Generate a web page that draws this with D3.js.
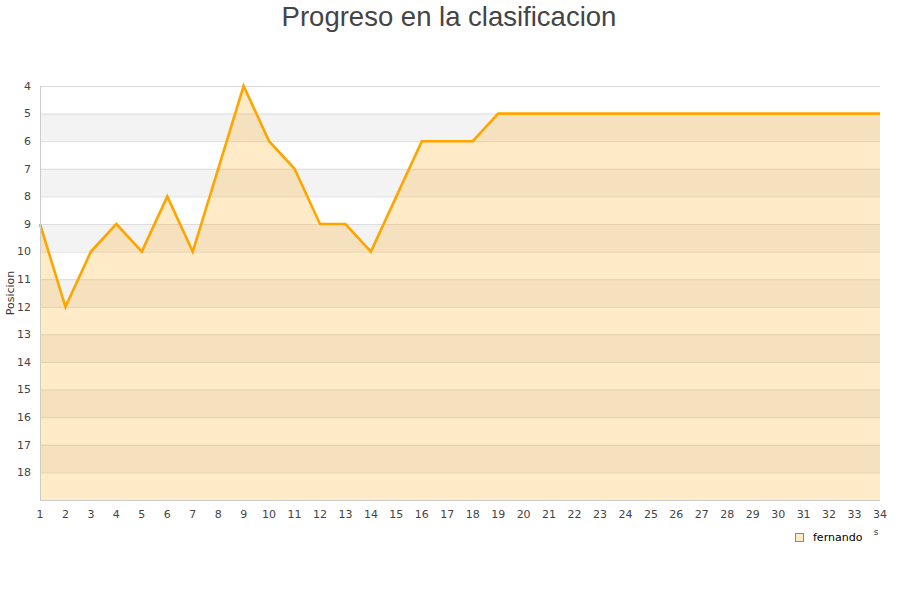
<!DOCTYPE html>
<html><head><meta charset="utf-8">
<script src="https://cdn.jsdelivr.net/npm/d3@7"></script>
<style>body{margin:0;background:#fff}svg{display:block}</style>
</head><body>
<svg id="c" width="900" height="600"></svg>
<script>
const jornadas = d3.range(1, 35);
const posiciones = [9,12,10,9,10,8,10,7,4,6,7,9,9,10,8,6,6,6,5,5,5,5,5,5,5,5,5,5,5,5,5,5,5,5];
const yTicks = [4,5,6,7,8,9,10,11,12,13,14,15,16,17,18];
const title = "Progreso en la clasificacion";
const yLabel = "Posicion";
const seriesName = "fernando";

const svg = d3.select("#c");
const x = d3.scaleLinear().domain([1, 34]).range([40, 880]);
const y = d3.scaleLinear().domain([4, 19]).range([86, 500]);

// bands
const bands = d3.range(4, 19);
svg.append("g").selectAll("rect").data(bands).join("rect")
  .attr("x", 40).attr("width", 840)
  .attr("y", d => y(d)).attr("height", d => y(d + 1) - y(d))
  .attr("fill", d => d % 2 === 1 ? "#f3f3f3" : "#ffffff");

// grid
svg.append("g").selectAll("line").data(yTicks).join("line")
  .attr("x1", 40).attr("x2", 880)
  .attr("y1", d => y(d) + 0.5).attr("y2", d => y(d) + 0.5)
  .attr("stroke", "#dddddd").attr("stroke-width", 1);

// area
const pts = jornadas.map((j, i) => [j, posiciones[i]]);
svg.append("path").datum(pts)
  .attr("d", d3.area().x(d => x(d[0])).y0(y(19)).y1(d => y(d[1])))
  .attr("fill", "rgba(255,165,0,0.22)");
svg.append("path").datum(pts)
  .attr("d", d3.line().x(d => x(d[0])).y(d => y(d[1])))
  .attr("fill", "none").attr("stroke", "#ffa500").attr("stroke-width", 2.6)
  .attr("stroke-linejoin", "miter");

// axes lines
svg.append("line").attr("x1", 40.5).attr("x2", 40.5).attr("y1", 86).attr("y2", 500)
  .attr("stroke", "#cccccc");
svg.append("line").attr("x1", 40).attr("x2", 880).attr("y1", 500.5).attr("y2", 500.5)
  .attr("stroke", "#cccccc");

// y tick labels
svg.append("g").selectAll("text").data(yTicks).join("text")
  .attr("x", 31).attr("y", d => y(d)).attr("dy", "0.35em")
  .attr("text-anchor", "end")
  .attr("font-family", "DejaVu Sans").attr("font-size", 11).attr("fill", "#444")
  .text(d => d);

// x tick labels
svg.append("g").selectAll("text").data(jornadas).join("text")
  .attr("x", d => x(d)).attr("y", 518)
  .attr("text-anchor", "middle")
  .attr("font-family", "DejaVu Sans").attr("font-size", 11).attr("fill", "#444")
  .text(d => d);

// title
svg.append("text").attr("x", 449).attr("y", 26).attr("text-anchor", "middle")
  .attr("font-family", "Liberation Sans, Arial").attr("font-size", 27.5).attr("fill", "#444")
  .text(title);

// y label
svg.append("text").attr("transform", "translate(14,293) rotate(-90)")
  .attr("text-anchor", "middle")
  .attr("font-family", "DejaVu Sans").attr("font-size", 11).attr("fill", "#333")
  .text(yLabel);

// x axis title remnant
svg.append("text").attr("x", 876).attr("y", 535).attr("text-anchor", "middle")
  .attr("font-family", "DejaVu Sans").attr("font-size", 9).attr("fill", "#333")
  .text("s");

// legend
svg.append("rect").attr("x", 795.5).attr("y", 533.5).attr("width", 8).attr("height", 8)
  .attr("fill", "#fdebc8").attr("stroke", "#888");
svg.append("text").attr("x", 813).attr("y", 541)
  .attr("font-family", "DejaVu Sans").attr("font-size", 11).attr("fill", "#000")
  .text(seriesName);
</script>
</body></html>
